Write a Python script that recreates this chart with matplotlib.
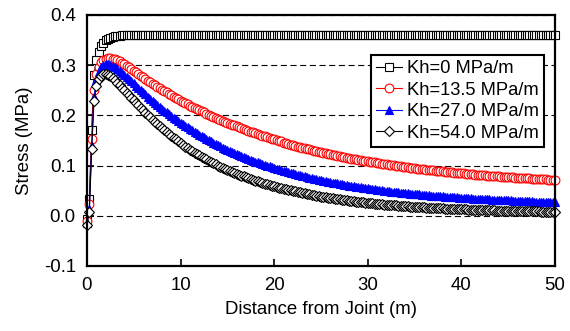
import numpy as np
import matplotlib
matplotlib.use("Agg")
import matplotlib.pyplot as plt

plt.rcParams['font.family'] = ['Liberation Sans', 'DejaVu Sans']

# distance from joint (m), sampled every 0.25 m
distance = np.arange(0, 50.001, 0.25)

# stress (MPa), one row per metre (4 samples each)
stress_kh0 = [
    -0.006, 0.034, 0.170, 0.280,
    0.310, 0.327, 0.338, 0.345,
    0.350, 0.353, 0.355, 0.357,
    0.358, 0.359, 0.359, 0.360,
    0.360, 0.360, 0.360, 0.360,
    # 5 .. 50 m : flat plateau
    0.360, 0.360, 0.360, 0.360, 0.360, 0.360, 0.360, 0.360, 0.360, 0.360,
    0.360, 0.360, 0.360, 0.360, 0.360, 0.360, 0.360, 0.360, 0.360, 0.360,
    0.360, 0.360, 0.360, 0.360, 0.360, 0.360, 0.360, 0.360, 0.360, 0.360,
    0.360, 0.360, 0.360, 0.360, 0.360, 0.360, 0.360, 0.360, 0.360, 0.360,
    0.360, 0.360, 0.360, 0.360, 0.360, 0.360, 0.360, 0.360, 0.360, 0.360,
    0.360, 0.360, 0.360, 0.360, 0.360, 0.360, 0.360, 0.360, 0.360, 0.360,
    0.360, 0.360, 0.360, 0.360, 0.360, 0.360, 0.360, 0.360, 0.360, 0.360,
    0.360, 0.360, 0.360, 0.360, 0.360, 0.360, 0.360, 0.360, 0.360, 0.360,
    0.360, 0.360, 0.360, 0.360, 0.360, 0.360, 0.360, 0.360, 0.360, 0.360,
    0.360, 0.360, 0.360, 0.360, 0.360, 0.360, 0.360, 0.360, 0.360, 0.360,
    0.360, 0.360, 0.360, 0.360, 0.360, 0.360, 0.360, 0.360, 0.360, 0.360,
    0.360, 0.360, 0.360, 0.360, 0.360, 0.360, 0.360, 0.360, 0.360, 0.360,
    0.360, 0.360, 0.360, 0.360, 0.360, 0.360, 0.360, 0.360, 0.360, 0.360,
    0.360, 0.360, 0.360, 0.360, 0.360, 0.360, 0.360, 0.360, 0.360, 0.360,
    0.360, 0.360, 0.360, 0.360, 0.360, 0.360, 0.360, 0.360, 0.360, 0.360,
    0.360, 0.360, 0.360, 0.360, 0.360, 0.360, 0.360, 0.360, 0.360, 0.360,
    0.360, 0.360, 0.360, 0.360, 0.360, 0.360, 0.360, 0.360, 0.360, 0.360,
    0.360, 0.360, 0.360, 0.360, 0.360, 0.360, 0.360, 0.360, 0.360, 0.360,
    0.360,
]

stress_kh135 = [
    -0.010, 0.023, 0.153, 0.250,
    0.282, 0.297, 0.306, 0.311,
    0.313, 0.314, 0.314, 0.313,
    0.312, 0.310, 0.308, 0.305,
    0.302, 0.299, 0.296, 0.292,
    0.289, 0.286, 0.282, 0.279,
    0.276, 0.273, 0.269, 0.266,
    0.263, 0.260, 0.257, 0.254,
    0.251, 0.248, 0.246, 0.243,
    0.240, 0.237, 0.235, 0.232,
    0.229, 0.227, 0.224, 0.222,
    0.219, 0.217, 0.215, 0.212,
    0.210, 0.208, 0.206, 0.203,
    0.201, 0.199, 0.197, 0.195,
    0.193, 0.191, 0.189, 0.187,
    0.185, 0.183, 0.181, 0.180,
    0.178, 0.176, 0.174, 0.173,
    0.171, 0.169, 0.167, 0.166,
    0.164, 0.162, 0.161, 0.159,
    0.158, 0.156, 0.155, 0.153,
    0.152, 0.151, 0.149, 0.148,
    0.146, 0.145, 0.144, 0.142,
    0.141, 0.140, 0.138, 0.137,
    0.136, 0.135, 0.134, 0.133,
    0.132, 0.130, 0.129, 0.128,
    0.127, 0.126, 0.125, 0.124,
    0.123, 0.122, 0.121, 0.120,
    0.119, 0.118, 0.117, 0.116,
    0.115, 0.114, 0.114, 0.113,
    0.112, 0.111, 0.110, 0.110,
    0.109, 0.108, 0.107, 0.107,
    0.106, 0.105, 0.104, 0.104,
    0.103, 0.102, 0.102, 0.101,
    0.100, 0.100, 0.099, 0.098,
    0.098, 0.097, 0.096, 0.096,
    0.095, 0.094, 0.094, 0.093,
    0.093, 0.092, 0.092, 0.091,
    0.091, 0.090, 0.090, 0.089,
    0.089, 0.088, 0.088, 0.087,
    0.087, 0.086, 0.086, 0.085,
    0.085, 0.085, 0.084, 0.084,
    0.083, 0.083, 0.082, 0.082,
    0.082, 0.081, 0.081, 0.080,
    0.080, 0.080, 0.079, 0.079,
    0.079, 0.078, 0.078, 0.078,
    0.077, 0.077, 0.077, 0.076,
    0.076, 0.076, 0.075, 0.075,
    0.075, 0.075, 0.074, 0.074,
    0.074, 0.073, 0.073, 0.073,
    0.073, 0.072, 0.072, 0.072,
    0.072,
]

stress_kh270 = [
    -0.014, 0.014, 0.140, 0.237,
    0.270, 0.287, 0.296, 0.300,
    0.302, 0.302, 0.301, 0.299,
    0.296, 0.293, 0.289, 0.285,
    0.281, 0.277, 0.272, 0.268,
    0.264, 0.259, 0.255, 0.250,
    0.246, 0.242, 0.237, 0.233,
    0.229, 0.225, 0.221, 0.217,
    0.213, 0.209, 0.206, 0.202,
    0.199, 0.195, 0.192, 0.188,
    0.185, 0.182, 0.179, 0.176,
    0.173, 0.170, 0.167, 0.164,
    0.161, 0.158, 0.156, 0.153,
    0.151, 0.148, 0.146, 0.143,
    0.141, 0.139, 0.136, 0.134,
    0.132, 0.130, 0.127, 0.125,
    0.123, 0.121, 0.119, 0.118,
    0.116, 0.114, 0.112, 0.110,
    0.108, 0.107, 0.105, 0.103,
    0.102, 0.100, 0.099, 0.097,
    0.096, 0.094, 0.093, 0.091,
    0.090, 0.089, 0.087, 0.086,
    0.085, 0.084, 0.082, 0.081,
    0.080, 0.079, 0.077, 0.076,
    0.075, 0.074, 0.073, 0.072,
    0.071, 0.070, 0.069, 0.068,
    0.067, 0.066, 0.066, 0.065,
    0.064, 0.063, 0.062, 0.061,
    0.060, 0.060, 0.059, 0.058,
    0.057, 0.057, 0.056, 0.055,
    0.055, 0.054, 0.053, 0.053,
    0.052, 0.051, 0.051, 0.050,
    0.050, 0.049, 0.048, 0.048,
    0.047, 0.047, 0.046, 0.046,
    0.045, 0.045, 0.044, 0.044,
    0.043, 0.043, 0.043, 0.042,
    0.042, 0.041, 0.041, 0.040,
    0.040, 0.040, 0.039, 0.039,
    0.039, 0.038, 0.038, 0.038,
    0.037, 0.037, 0.037, 0.036,
    0.036, 0.036, 0.035, 0.035,
    0.035, 0.034, 0.034, 0.034,
    0.034, 0.033, 0.033, 0.033,
    0.033, 0.032, 0.032, 0.032,
    0.032, 0.031, 0.031, 0.031,
    0.031, 0.031, 0.030, 0.030,
    0.030, 0.030, 0.029, 0.029,
    0.029, 0.029, 0.029, 0.028,
    0.028, 0.028, 0.028, 0.028,
    0.028, 0.027, 0.027, 0.027,
    0.027,
]

stress_kh540 = [
    -0.018, 0.008, 0.133, 0.229,
    0.258, 0.272, 0.279, 0.282,
    0.282, 0.281, 0.278, 0.274,
    0.270, 0.265, 0.260, 0.255,
    0.250, 0.245, 0.240, 0.235,
    0.230, 0.225, 0.220, 0.215,
    0.210, 0.205, 0.200, 0.196,
    0.191, 0.187, 0.183, 0.178,
    0.174, 0.170, 0.166, 0.163,
    0.159, 0.155, 0.152, 0.148,
    0.145, 0.142, 0.138, 0.135,
    0.132, 0.129, 0.126, 0.124,
    0.121, 0.118, 0.115, 0.113,
    0.110, 0.108, 0.105, 0.103,
    0.100, 0.098, 0.096, 0.094,
    0.092, 0.090, 0.088, 0.086,
    0.084, 0.082, 0.080, 0.079,
    0.077, 0.075, 0.073, 0.072,
    0.070, 0.069, 0.067, 0.066,
    0.064, 0.063, 0.062, 0.060,
    0.059, 0.058, 0.056, 0.055,
    0.054, 0.053, 0.052, 0.051,
    0.050, 0.049, 0.048, 0.047,
    0.046, 0.045, 0.044, 0.043,
    0.042, 0.041, 0.040, 0.039,
    0.038, 0.038, 0.037, 0.036,
    0.035, 0.035, 0.034, 0.033,
    0.033, 0.032, 0.031, 0.031,
    0.030, 0.029, 0.029, 0.028,
    0.028, 0.027, 0.027, 0.026,
    0.026, 0.025, 0.025, 0.024,
    0.024, 0.023, 0.023, 0.022,
    0.022, 0.022, 0.021, 0.021,
    0.021, 0.020, 0.020, 0.019,
    0.019, 0.019, 0.018, 0.018,
    0.018, 0.018, 0.017, 0.017,
    0.017, 0.016, 0.016, 0.016,
    0.016, 0.015, 0.015, 0.015,
    0.015, 0.014, 0.014, 0.014,
    0.014, 0.014, 0.013, 0.013,
    0.013, 0.013, 0.013, 0.012,
    0.012, 0.012, 0.012, 0.012,
    0.012, 0.011, 0.011, 0.011,
    0.011, 0.011, 0.011, 0.010,
    0.010, 0.010, 0.010, 0.010,
    0.010, 0.010, 0.010, 0.010,
    0.010, 0.009, 0.009, 0.009,
    0.009, 0.009, 0.009, 0.009,
    0.009, 0.009, 0.008, 0.008,
    0.008, 0.008, 0.008, 0.008,
    0.008,
]

labels = ['Kh=0 MPa/m', 'Kh=13.5 MPa/m', 'Kh=27.0 MPa/m', 'Kh=54.0 MPa/m']
x_ticks = [0, 10, 20, 30, 40, 50]
y_ticks = [-0.1, 0.0, 0.1, 0.2, 0.3, 0.4]

fig = plt.figure(figsize=(5.7, 3.31), dpi=100)
ax = fig.add_axes([0.1526, 0.1964, 0.8211, 0.7583])

# horizontal dashed grid
ax.yaxis.grid(True, linestyle=(0, (5.5, 3.2)), color='black', linewidth=0.8)
ax.set_axisbelow(True)

styles = [
    # color, marker, face, size
    ('black', 's', 'white', 6.0),
    ('red', 'o', 'white', 6.3),
    ('blue', '^', 'blue', 6.3),
    ('black', 'D', 'white', 5.0),
]
all_series = [stress_kh0, stress_kh135, stress_kh270, stress_kh540]

for ys, lab, (col, mk, face, ms) in zip(all_series, labels, styles):
    ax.plot(distance, ys, color=col, linewidth=0.8, marker=mk, markersize=ms,
            markerfacecolor=face, markeredgecolor=col, markeredgewidth=0.8,
            label=lab, clip_on=False)

ax.set_xlim(0, 50)
ax.set_ylim(-0.1, 0.4)
ax.set_xticks(x_ticks)
ax.set_yticks(y_ticks)
ax.set_yticklabels([f"{v:.1f}" for v in y_ticks])
ax.tick_params(direction='in', length=5, width=1.2, labelsize=13.4, pad=8)

for sp in ax.spines.values():
    sp.set_linewidth(1.6)

ax.set_xlabel('Distance from Joint (m)', fontsize=13.4, labelpad=5)
ax.set_ylabel('Stress (MPa)', fontsize=13.4, labelpad=8)

leg = ax.legend(loc='upper right', bbox_to_anchor=(0.977, 0.842), frameon=True,
                fancybox=False, edgecolor='black', framealpha=1, fontsize=13.2,
                handlelength=1.4, handletextpad=0.25, borderpad=0.3,
                labelspacing=0.25, borderaxespad=0)
leg.get_frame().set_linewidth(1.5)

fig.savefig('out.png', dpi=100)
